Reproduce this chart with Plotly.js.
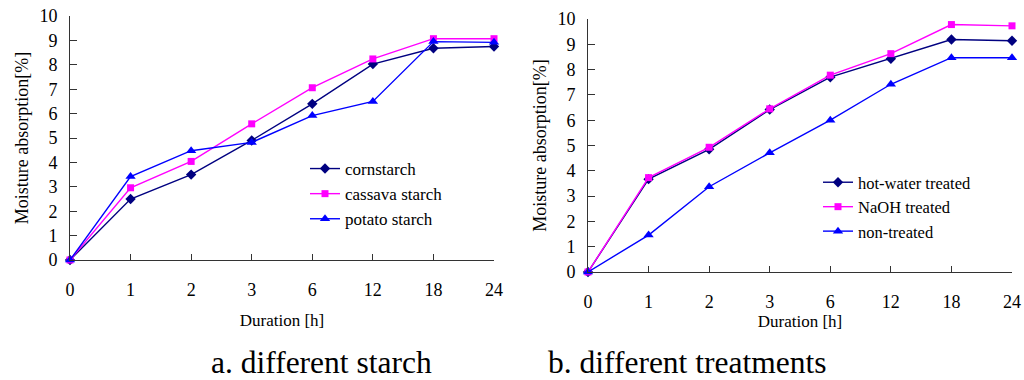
<!DOCTYPE html>
<html><head><meta charset="utf-8">
<script src="https://cdn.plot.ly/plotly-3.0.1.min.js"></script>
<style>html,body{margin:0;padding:0;background:#fff}</style>
</head><body><div id="chart" style="width:1024px;height:380px"></div>
<script>
const durations = ['0','1','2','3','6','12','18','24'];
const cornstarch = [0,2.5,3.5,4.9,6.4,8.03,8.68,8.75];
const cassavaStarch = [0,2.96,4.04,5.58,7.06,8.24,9.07,9.07];
const potatoStarch = [0,3.42,4.48,4.82,5.92,6.5,8.95,8.92];
const hotWaterTreated = [0,3.67,4.85,6.42,7.7,8.43,9.19,9.14];
const naohTreated = [0,3.73,4.93,6.45,7.78,8.63,9.78,9.73];
const nonTreated = [0,1.46,3.37,4.71,6.0,7.42,8.47,8.47];
const yTicks = [0,1,2,3,4,5,6,7,8,9,10];

const NAVY = '#000080', MAG = '#FF00FF', BLUE = '#0000FF';
const FONT = '"Liberation Serif", "Times New Roman", serif';

function tr(name, y, color, symbol, size, xa, ya, leg){
  return {type:'scatter', mode:'lines+markers', name:name, x:durations, y:y,
    xaxis:xa, yaxis:ya, legend:leg, legendgroup:name, cliponaxis:false,
    line:{color:color, width:1.4}, marker:{color:color, symbol:symbol, size:size}};
}
const data = [
  tr('cornstarch', cornstarch, NAVY, 'diamond', 8, 'x', 'y', 'legend'),
  tr('cassava starch', cassavaStarch, MAG, 'square', 7, 'x', 'y', 'legend'),
  tr('potato starch', potatoStarch, BLUE, 'triangle-up', 9, 'x', 'y', 'legend'),
  tr('hot-water treated', hotWaterTreated, NAVY, 'diamond', 8, 'x2', 'y2', 'legend2'),
  tr('NaOH treated', naohTreated, MAG, 'square', 7, 'x2', 'y2', 'legend2'),
  tr('non-treated', nonTreated, BLUE, 'triangle-up', 9, 'x2', 'y2', 'legend2')
];
const W = 1024, H = 380;
function xax(l, r, standoff, titleStandoff){
  return {type:'category', domain:[l/W, r/W], range:[0,7], showgrid:false, zeroline:false,
    showline:true, linecolor:'#333', linewidth:1, ticks:'inside', ticklen:6, tickcolor:'#333',
    ticklabelstandoff:standoff, tickfont:{family:FONT, size:18, color:'#000'},
    title:{text:'Duration [h]', font:{family:FONT, size:17, color:'#000'}, standoff:titleStandoff},
    automargin:false, fixedrange:true};
}
function yax(top, bot, xa){
  return {domain:[(H-bot)/H, (H-top)/H], range:[0,10], tickvals:yTicks, showgrid:false, zeroline:false,
    showline:true, linecolor:'#333', linewidth:1, ticks:'inside', ticklen:7, tickcolor:'#333',
    ticklabelstandoff:8, tickfont:{family:FONT, size:18, color:'#000'},
    title:{text:'Moisture absorption[%]', font:{family:FONT, size:18, color:'#000'}, standoff:6},
    anchor:xa, automargin:false, fixedrange:true};
}
const layout = {
  width:W, height:H, margin:{l:0,r:0,t:0,b:0}, paper_bgcolor:'#fff', plot_bgcolor:'#fff',
  font:{family:FONT, color:'#000'},
  xaxis: Object.assign(xax(70, 494, 13, 15), {anchor:'y'}),
  yaxis: yax(16, 260, 'x'),
  xaxis2: Object.assign(xax(588, 1012, 13, 0), {anchor:'y2'}),
  yaxis2: yax(19, 272, 'x2'),
  legend:{x:305/W, y:(H-151)/H, xanchor:'left', yanchor:'top', bgcolor:'rgba(0,0,0,0)',
    font:{family:FONT, size:17, color:'#000'}, tracegroupgap:0, itemwidth:30},
  legend2:{x:818/W, y:(H-165)/H, xanchor:'left', yanchor:'top', bgcolor:'rgba(0,0,0,0)',
    font:{family:FONT, size:16.5, color:'#000'}, tracegroupgap:0, itemwidth:30},
  annotations:[
    {text:'a. different starch', x:321/W, y:(H-362)/H, xref:'paper', yref:'paper', showarrow:false,
     xanchor:'center', yanchor:'middle', font:{family:FONT, size:31.5, color:'#000'}},
    {text:'b. different treatments', x:687/W, y:(H-362)/H, xref:'paper', yref:'paper', showarrow:false,
     xanchor:'center', yanchor:'middle', font:{family:FONT, size:31.5, color:'#000'}}
  ]
};
Plotly.newPlot('chart', data, layout, {staticPlot:true, displayModeBar:false});
</script></body></html>
